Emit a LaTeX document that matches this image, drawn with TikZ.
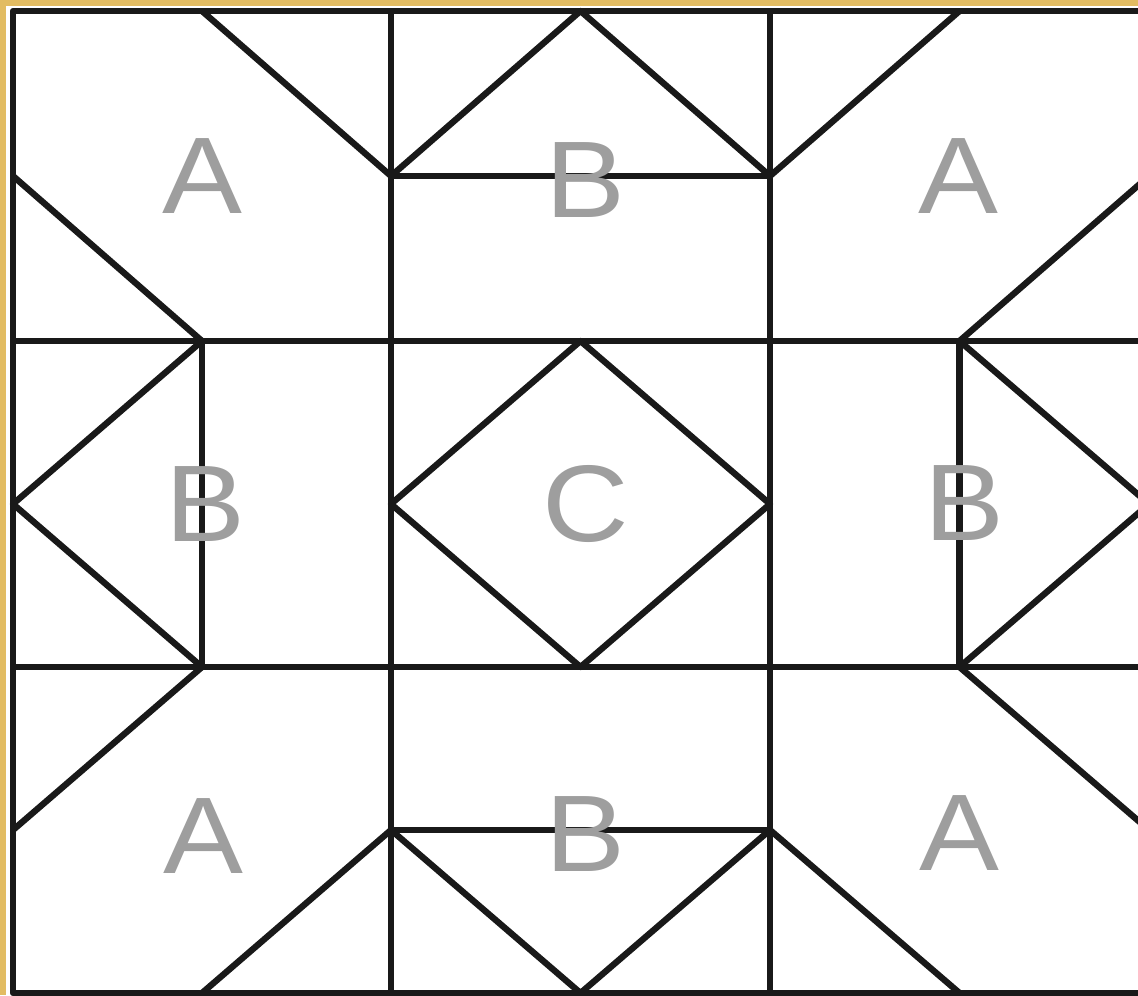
\documentclass[tikz,border=0pt]{standalone}
\usepackage{fontspec}
\setmainfont{Liberation Sans}
\usepackage{xcolor}
\usepackage{tikz}

\definecolor{framegold}{RGB}{226,188,98}

\begin{document}
\begin{tikzpicture}[
    x=0.02cm, y=-0.02cm,
    seam/.style={draw=black!90, line width=3.6pt, line join=round},
    lbl/.style={text=black!38, font=\fontsize{62}{62}\selectfont, inner sep=0pt, xscale=1.1}
]
\useasboundingbox (0,0) rectangle (1138,995);
\fill[framegold] (0,0) rectangle (1138,995);
\fill[white] (6,6) rectangle (1138,995);

% half-cell grid points p-i-j
\foreach \x [count=\i from 0] in {13,202,391,580.5,770,959.5,1149}
  \foreach \y [count=\j from 0] in {11,176,341,504,667,830,993}
    \coordinate (p-\i-\j) at (\x,\y);

% block seams
\draw[seam] (p-0-0) rectangle (p-6-6);
\draw[seam] (p-2-0) -- (p-2-6);
\draw[seam] (p-4-0) -- (p-4-6);
\draw[seam] (p-0-2) -- (p-6-2);
\draw[seam] (p-0-4) -- (p-6-4);

% A corners
\draw[seam] (p-1-0) -- (p-2-1);
\draw[seam] (p-0-1) -- (p-1-2);
\draw[seam] (p-4-1) -- (p-5-0);
\draw[seam] (p-5-2) -- (p-6-1);
\draw[seam] (p-0-5) -- (p-1-4);
\draw[seam] (p-1-6) -- (p-2-5);
\draw[seam] (p-5-4) -- (p-6-5);
\draw[seam] (p-4-5) -- (p-5-6);

% B sides
\draw[seam] (p-2-1) -- (p-4-1);
\draw[seam] (p-2-1) -- (p-3-0) -- (p-4-1);
\draw[seam] (p-1-2) -- (p-1-4);
\draw[seam] (p-1-2) -- (p-0-3) -- (p-1-4);
\draw[seam] (p-5-2) -- (p-5-4);
\draw[seam] (p-5-2) -- (p-6-3) -- (p-5-4);
\draw[seam] (p-2-5) -- (p-4-5);
\draw[seam] (p-2-5) -- (p-3-6) -- (p-4-5);

% C centre
\draw[seam] (p-3-2) -- (p-4-3) -- (p-3-4) -- (p-2-3) -- cycle;

\node[lbl] (lblA-tl) at (202,176) {A};
\node[lbl] (lblB-t)  at (585,180) {B};
\node[lbl] (lblA-tr) at (958,176) {A};
\node[lbl] (lblB-l)  at (205,504) {B};
\node[lbl] (lblC)    at (586,504) {C};
\node[lbl] (lblB-r)  at (964,503) {B};
\node[lbl] (lblA-bl) at (203,836) {A};
\node[lbl] (lblB-b)  at (585,834) {B};
\node[lbl] (lblA-br) at (959,833) {A};
\end{tikzpicture}
\end{document}
